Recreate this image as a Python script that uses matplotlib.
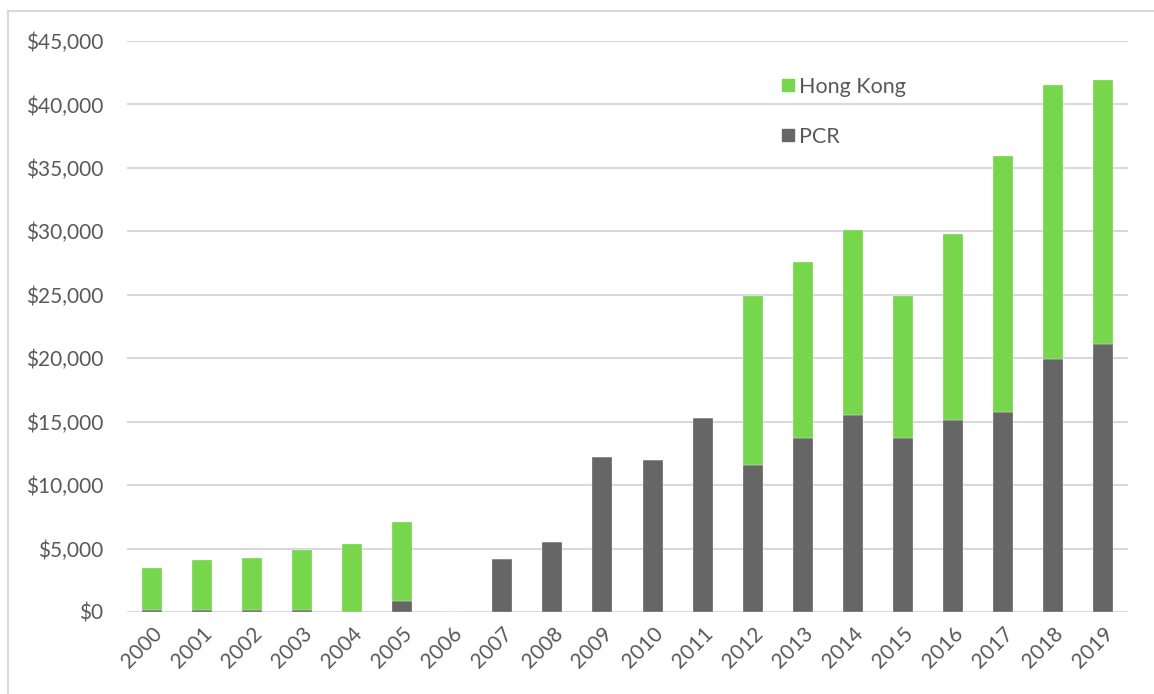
import numpy as np
import matplotlib.pyplot as plt
from matplotlib.ticker import FuncFormatter
from matplotlib.lines import Line2D

# yearly values, stacked: PCR at the bottom, Hong Kong on top
years = [str(y) for y in range(2000, 2020)]
pcr = [150, 150, 150, 150, 0, 870, 0, 4140, 5530, 12190,
       11980, 15280, 11600, 13700, 15500, 13700, 15100, 15800, 19900, 21100]
hong_kong = [3300, 3910, 4110, 4720, 5390, 6190, 0, 0, 0, 0,
             0, 0, 13300, 13900, 14600, 11200, 14700, 20160, 21660, 20860]

green = '#77d64b'
grey = '#666666'
text_grey = '#595959'

plt.rcParams['font.family'] = ['Lato', 'DejaVu Sans']

fig = plt.figure(figsize=(11.54, 6.94), dpi=100)
ax = fig.add_axes([127/1154, 82/694, (1128-127)/1154, (612-41)/694])

x = np.arange(len(years))
ax.bar(x, pcr, width=0.4, color=grey, edgecolor='white', linewidth=0.2, label='PCR', zorder=3)
ax.bar(x, hong_kong, width=0.4, bottom=pcr, color=green, edgecolor='white', linewidth=0.2,
       label='Hong Kong', zorder=3)

ax.set_xlim(-0.5, len(years) - 0.5)
ax.set_ylim(0, 45000)
ax.set_yticks(np.arange(0, 45001, 5000))
ax.yaxis.set_major_formatter(FuncFormatter(lambda v, p: '${:,.0f}'.format(v)))
ax.grid(axis='y', color='#d9d9d9', linewidth=1.5, zorder=0)
for s in ax.spines.values():
    s.set_visible(False)

ax.set_xticks(x)
ax.set_xticklabels(years, rotation=45, ha='right', rotation_mode='anchor')
ax.tick_params(axis='both', length=0, labelsize=15, colors=text_grey)
ax.tick_params(axis='y', pad=17)
ax.tick_params(axis='x', pad=8)

handles = [Line2D([], [], marker='s', linestyle='none', markersize=9, color=green),
           Line2D([], [], marker='s', linestyle='none', markersize=9, color=grey)]
leg = ax.legend(handles, ['Hong Kong', 'PCR'], loc='upper left',
                bbox_to_anchor=(766/1154, 1 - 66/694), bbox_transform=fig.transFigure,
                frameon=False, fontsize=15.5, labelspacing=1.4, handletextpad=0.05,
                handlelength=1.0, borderpad=0)
for t in leg.get_texts():
    t.set_color(text_grey)

# thin chart-area border along the top and left edges
fig.add_artist(Line2D([8/1154, 1], [1 - 11/694, 1 - 11/694], color='#d9d9d9', linewidth=1.5))
fig.add_artist(Line2D([8/1154, 8/1154], [0, 1 - 11/694], color='#d9d9d9', linewidth=1.5))

fig.savefig('out.png', dpi=100)
